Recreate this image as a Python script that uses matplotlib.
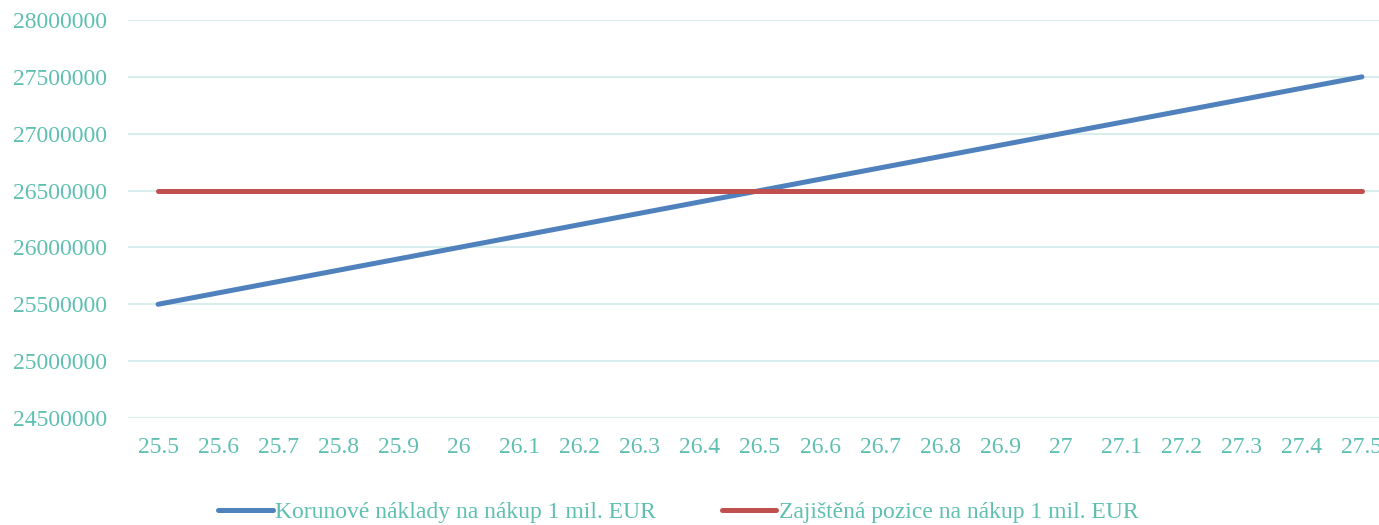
import matplotlib
matplotlib.use("Agg")
import matplotlib.pyplot as plt

# data
kurzy = ["25.5", "25.6", "25.7", "25.8", "25.9", "26", "26.1", "26.2", "26.3", "26.4", "26.5",
         "26.6", "26.7", "26.8", "26.9", "27", "27.1", "27.2", "27.3", "27.4", "27.5"]
naklady = [25500000, 25600000, 25700000, 25800000, 25900000, 26000000, 26100000, 26200000,
           26300000, 26400000, 26500000, 26600000, 26700000, 26800000, 26900000, 27000000,
           27100000, 27200000, 27300000, 27400000, 27500000]
zajisteno = [26500000] * 21
y_ticks = [24500000, 25000000, 25500000, 26000000, 26500000, 27000000, 27500000, 28000000]

teal = "#5FC0B2"
plt.rcParams["font.family"] = ["Liberation Serif", "DejaVu Serif"]

fig = plt.figure(figsize=(13.79, 5.25), dpi=100)
# plot area runs a bit past the right edge, like in the original
ax = fig.add_axes([128 / 1379, 1 - 418 / 525, 1264 / 1379, 398 / 525])

x = list(range(len(kurzy)))
ax.plot(x, naklady, color="#4F81BD", lw=3.6, solid_capstyle="round",
        label="Korunové náklady na nákup 1 mil. EUR", zorder=3)
ax.plot(x, zajisteno, color="#C0504D", lw=3.6, solid_capstyle="round",
        label="Zajištěná pozice na nákup 1 mil. EUR", zorder=3)

ax.set_xlim(-0.5, len(kurzy) - 0.5)
ax.set_ylim(24500000, 28000000)
ax.set_xticks(x)
ax.set_xticklabels(kurzy)
ax.set_yticks(y_ticks)
ax.set_yticklabels([str(v) for v in y_ticks])
ax.grid(axis="y", color="#D8EEEC", lw=1.5)
ax.set_axisbelow(True)
for s in ax.spines.values():
    s.set_visible(False)
ax.tick_params(length=0, labelsize=17, labelcolor=teal)
ax.tick_params(axis="y", pad=15)
ax.tick_params(axis="x", pad=14)

fig.legend(loc="center", bbox_to_anchor=(0.492, 1 - 512 / 525), ncol=2, frameon=False,
           fontsize=17, labelcolor=teal, handlelength=2.3, handletextpad=0.1,
           columnspacing=2.8)

fig.savefig("out.png", dpi=100)
